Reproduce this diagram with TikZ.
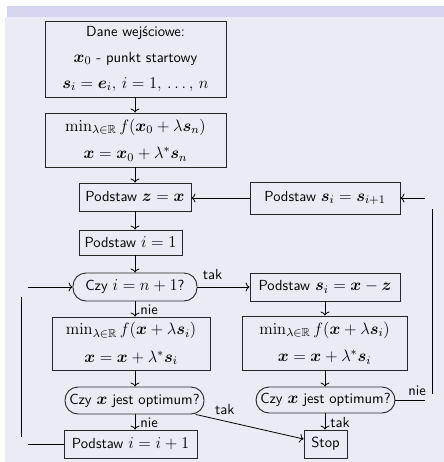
\RequirePackage{fix-cm}
\documentclass[tikz,border=0pt]{standalone}
\usepackage{amsmath,amssymb}
\usetikzlibrary{arrows.meta}
\DeclareMathSizes{10.95}{12.4}{8.7}{6.5}
\definecolor{bgcol}{RGB}{235,235,245}
\definecolor{barcol}{RGB}{214,214,240}
\newcommand{\vx}{\boldsymbol{x}}
\newcommand{\vs}{\boldsymbol{s}}
\newcommand{\ve}{\boldsymbol{e}}
\newcommand{\vz}{\boldsymbol{z}}
\def\p{0.75}
\begin{document}
\begin{tikzpicture}[x=0.75pt,y=-0.75pt,
  font=\fontsize{10.95}{13}\selectfont\sffamily,
  box/.style={draw=black!85, line width=0.68pt, rectangle, align=center, inner sep=0pt},
  dec/.style={box, rounded corners=9.75pt},
  conn/.style={line width=0.6pt, -{To[length=3pt,width=6.75pt]}},
  plain/.style={line width=0.6pt},
  lab/.style={inner sep=0.75pt}]
\useasboundingbox (0,0) rectangle (444,462);
\fill[white] (0,0) rectangle (444,462);
\fill[bgcol] (5,17) rectangle (444,462);
\fill[barcol] (7,6) rectangle (444,17);
\coordinate (cL) at (135,0);
\coordinate (cR) at (325,0);
\node[box, minimum width=181*\p, minimum height=76*\p] (in) at (135.5,59)
  {Dane wejściowe:\\[6.5pt] $\vx_0$ - punkt startowy\\[6.5pt] $\vs_i=\ve_i,\, i=1,\,\ldots,\,n$};
\node[box, minimum width=181*\p, minimum height=54*\p] (m0) at (135.5,140)
  {$\min_{\lambda\in\mathbb{R}} f(\vx_0+\lambda\vs_n)$\\[7.5pt] $\vx=\vx_0+\lambda^*\vs_n$};
\node[box, minimum width=112*\p, minimum height=28*\p] (zx) at (135,197) {Podstaw $\vz=\vx$};
\node[box, minimum width=150*\p, minimum height=32*\p] (sn) at (325,198) {Podstaw $\vs_i=\vs_{i+1}$};
\node[box, minimum width=103*\p, minimum height=25*\p] (i1) at (130.5,242.5) {Podstaw $i=1$};
\node[dec, minimum width=124*\p, minimum height=28*\p] (d1) at (135,287) {Czy $i=n+1$?};
\node[box, minimum width=150*\p, minimum height=28*\p] (sxz) at (325,287) {Podstaw $\vs_i=\vx-\vz$};
\node[box, minimum width=158*\p, minimum height=53*\p] (mL) at (131,343.5)
  {$\min_{\lambda\in\mathbb{R}} f(\vx+\lambda\vs_i)$\\[7.5pt] $\vx=\vx+\lambda^*\vs_i$};
\node[box, minimum width=165*\p, minimum height=54*\p] (mR) at (324.5,343)
  {$\min_{\lambda\in\mathbb{R}} f(\vx+\lambda\vs_i)$\\[7.5pt] $\vx=\vx+\lambda^*\vs_i$};
\node[dec, minimum width=139*\p, minimum height=27*\p] (d2L) at (134.5,400.5) {Czy $\vx$ jest optimum?};
\node[dec, minimum width=139*\p, minimum height=26*\p] (d2R) at (325.5,400) {Czy $\vx$ jest optimum?};
\node[box, minimum width=133*\p, minimum height=28*\p] (ii) at (130.5,444) {Podstaw $i=i+1$};
\node[box, minimum width=43*\p, minimum height=28*\p] (stop) at (325.5,444) {Stop};
% main column
\draw[conn] (in.south -| cL) -- (m0.north -| cL);
\draw[conn] (m0.south -| cL) -- (zx.north -| cL);
\draw[conn] (zx.south -| cL) -- (i1.north -| cL);
\draw[conn] (i1.south -| cL) -- (d1.north -| cL);
\draw[conn] (d1.south -| cL) -- node[lab, pos=0.55, anchor=west, xshift=3pt]{nie} (mL.north -| cL);
\draw[conn] (mL.south -| cL) -- (d2L.north -| cL);
\draw[conn] (d2L.south -| cL) -- node[lab, pos=0.55, anchor=west, xshift=3pt]{nie} (ii.north -| cL);
\draw[conn] (d1) -- node[lab, pos=0, anchor=south west, xshift=3pt, yshift=4.5pt]{tak} (sxz);
\draw[conn] (d2L) -- node[lab, pos=0.27, anchor=south, yshift=3.75pt]{tak} (stop);
\draw[conn] (sn.west) -- (sn.west -| zx.east);
% right column
\draw[conn] (sxz.south -| cR) -- (mR.north -| cR);
\draw[conn] (mR.south -| cR) -- (d2R.north -| cR);
\draw[conn] (d2R.south -| cR) -- node[lab, pos=0.55, anchor=west, xshift=3pt]{tak} (stop.north -| cR);
% right loop
\coordinate (rE) at (425,400);
\coordinate (rT) at (432,209);
\coordinate (rB) at (432,394);
\coordinate (rS) at (425,198);
\draw[plain] (d2R.east) -- node[lab, pos=0.73, anchor=south, yshift=2.25pt]{nie} (rE);
\draw[plain] (rT) -- (rB);
\draw[conn] (rS) -- (sn.east);
% left loop
\coordinate (lS) at (28,287);
\coordinate (lT) at (21,297);
\coordinate (lB) at (21,437);
\coordinate (lE) at (28,444);
\draw[conn] (lS) -- (d1.west);
\draw[plain] (lT) -- (lB);
\draw[plain] (ii.west) -- (lE);
\end{tikzpicture}
\end{document}
